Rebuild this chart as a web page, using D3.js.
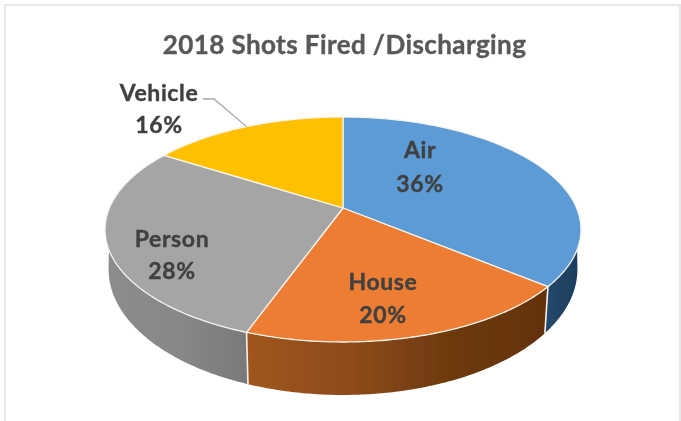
<!DOCTYPE html>
<html>
<head>
<meta charset="utf-8">
<script src="https://cdn.jsdelivr.net/npm/d3@7"></script>
<style>
html,body{margin:0;padding:0;background:#fff}
svg{display:block}
text{font-family:Lato,"Open Sans",sans-serif;font-weight:700;text-anchor:middle}
</style>
</head>
<body>
<svg id="c" width="681" height="421"></svg>
<script>
const categories = ["Air", "House", "Person", "Vehicle"];
const shares = [36, 19.5, 28.5, 16];
const displayLabels = ["36%", "20%", "28%", "16%"];
const topColors = ["#5b9bd5", "#ed7d31", "#a5a5a5", "#ffc000"];
const sideStops = [["#24496d", "#1e3d5c"], ["#a0551e", "#8f4c1a", "#6e3a10", "#633209"], ["#8c8c8c", "#888888", "#797979"], ["#997300", "#997300"]];
const labelSpots = [[420, 150, 184], [383, 282, 315], [172, 239, 271], [159, 93, 125]];
const titleText = "2018 Shots Fired /Discharging";

const svg = d3.select("#c");
const defs = svg.append("defs");
defs.append("filter").attr("id", "soft").attr("x", "-5%").attr("y", "-5%").attr("width", "110%").attr("height", "110%")
  .append("feGaussianBlur").attr("stdDeviation", 0.6);

const root = svg.append("g").attr("filter", "url(#soft)");

// image frame
const frame = d3.path();
frame.moveTo(5, 421); frame.lineTo(5, 5); frame.lineTo(680, 5); frame.lineTo(680, 421);
root.append("path").attr("d", frame.toString()).attr("fill", "none").attr("stroke", "#e8e8e8").attr("stroke-width", 2);

// perspective tilt of the disc
const cx = 343, k = 0.191;
function project(a, layer) {
  const u = Math.sin(a), v = -Math.cos(a), w = 1 - k * v;
  return layer === "top"
    ? [cx + 233.6 * u / w, 208 + 108.4 * v / w]
    : [cx + 230.1 * u / w, 245.4 + 121 * v / w];
}
const deg = Math.PI / 180;
const arcs = d3.pie().sort(null).value(d => d)(shares);
const samples = (a0, a1) => d3.range(0, 121).map(i => a0 + (a1 - a0) * i / 120);
const line = d3.line();

// side wall
const topLim = [111 * deg, 249 * deg], lowLim = [101 * deg, 259 * deg];
arcs.forEach((d, i) => {
  if (d.endAngle <= lowLim[0] || d.startAngle >= lowLim[1]) return;
  const t0 = Math.max(d.startAngle, topLim[0]), t1 = Math.min(d.endAngle, topLim[1]);
  const b0 = Math.max(d.startAngle, lowLim[0]), b1 = Math.min(d.endAngle, lowLim[1]);
  const pts = samples(t0, t1).map(a => project(a, "top"))
    .concat(samples(b1, b0).map(a => project(a, "low")));
  const xs = d3.extent(pts, p => p[0]);
  const g = defs.append("linearGradient").attr("id", "side" + i)
    .attr("gradientUnits", "userSpaceOnUse").attr("x1", xs[0]).attr("x2", xs[1]).attr("y1", 0).attr("y2", 0);
  sideStops[i].forEach((c, j) => g.append("stop").attr("offset", j / (sideStops[i].length - 1)).attr("stop-color", c));
  root.append("path").attr("d", line(pts) + "Z").attr("fill", `url(#side${i})`);
});
// separators on the wall
arcs.forEach(d => {
  if (d.endAngle > lowLim[0] && d.endAngle < lowLim[1]) {
    root.append("path").attr("d", line([project(d.endAngle, "top"), project(d.endAngle, "low")]))
      .attr("stroke", "#f4f1ec").attr("stroke-width", 1.6).attr("fill", "none");
  }
});

// top faces
arcs.forEach((d, i) => {
  const pts = [[cx, 208]].concat(samples(d.startAngle, d.endAngle).map(a => project(a, "top")));
  root.append("path").attr("d", line(pts) + "Z").attr("fill", topColors[i])
    .attr("stroke", "#f6f3ee").attr("stroke-width", 1.3).attr("stroke-linejoin", "round");
});

// leader
const mid = (arcs[3].startAngle + arcs[3].endAngle) / 2;
const anchor = project(mid, "top");
root.append("path").attr("d", line([[203, 99], [214, 99], anchor]))
  .attr("fill", "none").attr("stroke", "#a6a6a6").attr("stroke-width", 1.3);

// text
root.append("text").attr("x", 344.5).attr("y", 54).attr("font-size", 26).attr("letter-spacing", 0.42)
  .attr("fill", "#595959").attr("stroke", "#595959").attr("stroke-width", 0.4).text(titleText);
categories.forEach((c, i) => {
  const s = labelSpots[i];
  [[c, s[1]], [displayLabels[i], s[2]]].forEach(([t, y]) => {
    root.append("text").attr("x", s[0]).attr("y", y + 8).attr("font-size", 23).attr("letter-spacing", 0.6)
      .attr("fill", "#404040").attr("stroke", "#404040").attr("stroke-width", 0.4).text(t);
  });
});
</script>
</body>
</html>
